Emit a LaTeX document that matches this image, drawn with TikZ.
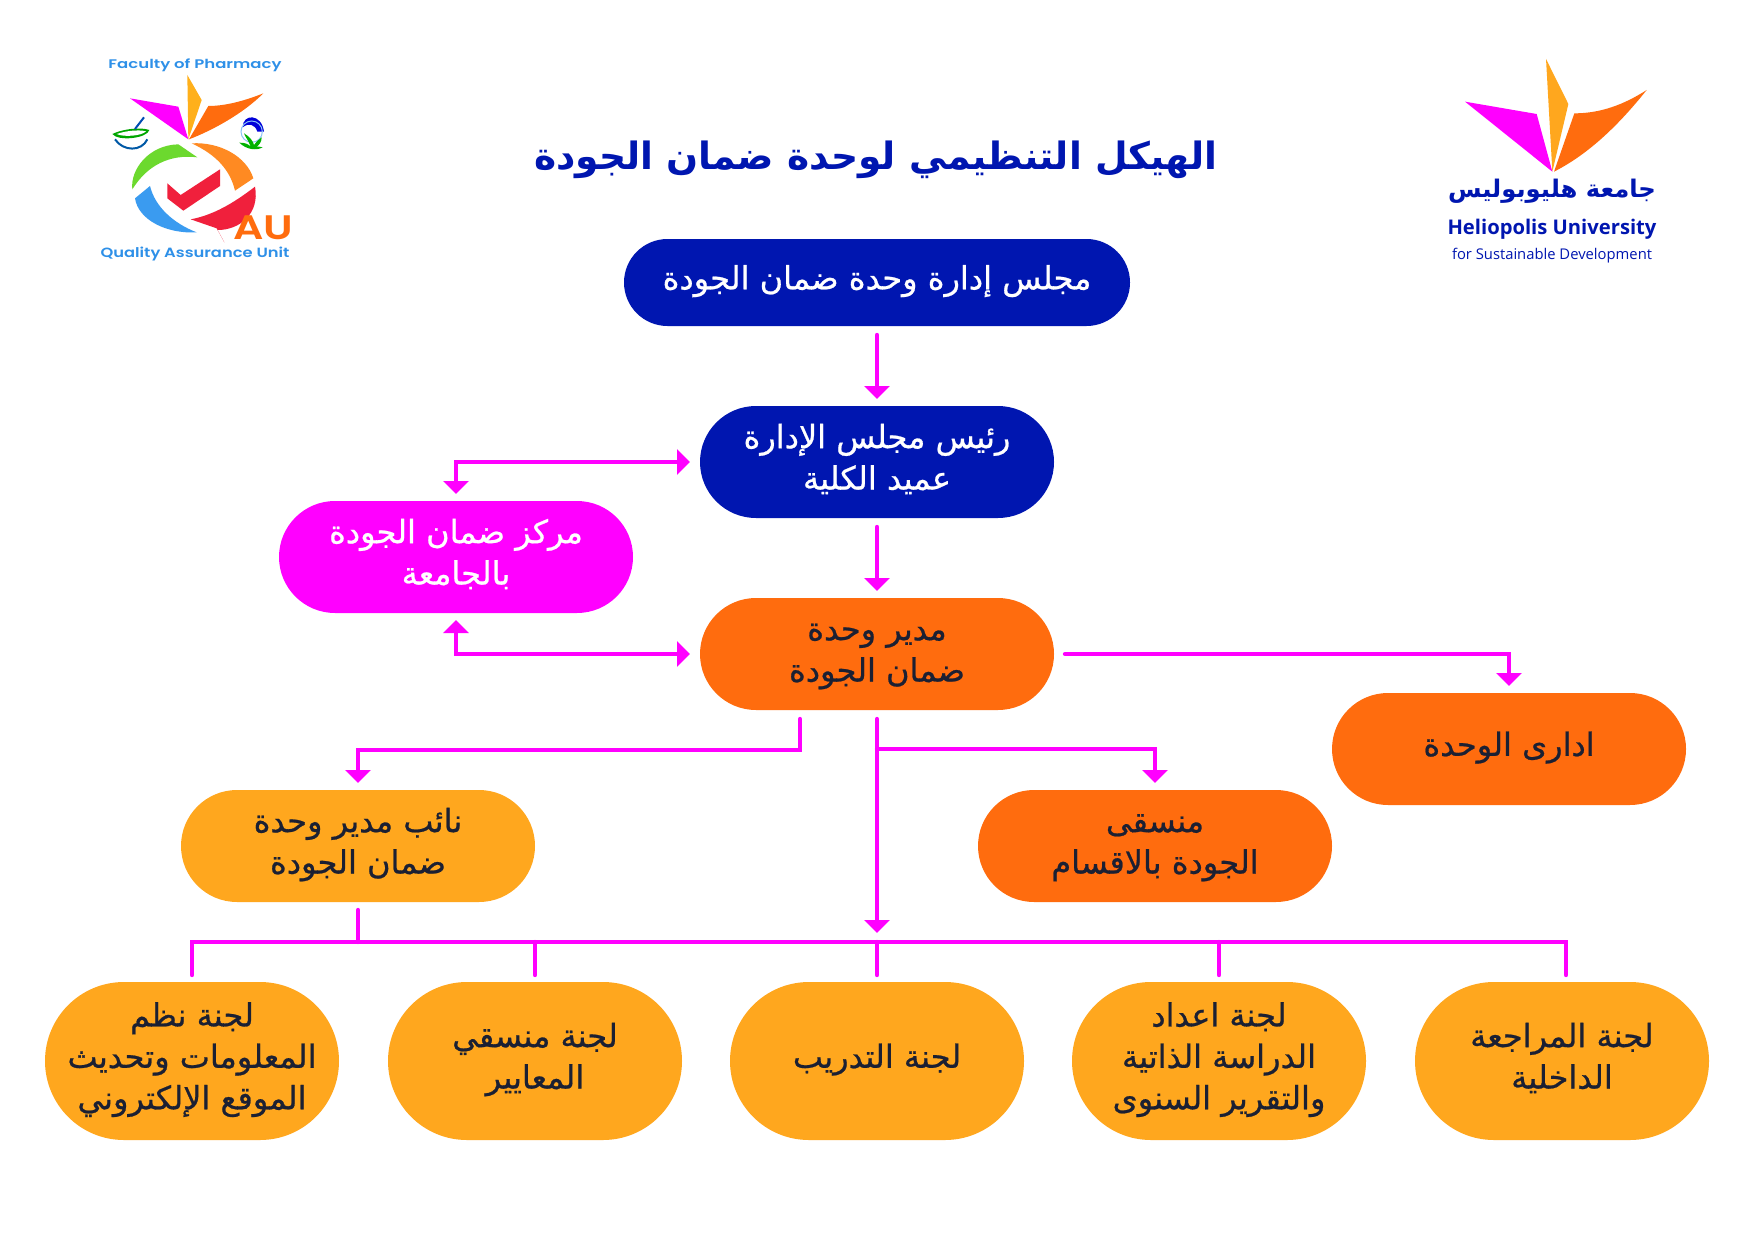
\documentclass[tikz,border=0pt]{standalone}
\usepackage{fontspec}
\usetikzlibrary{arrows.meta,calc}
\TeXXeTstate=1
\newfontfamily\arfont[Script=Arabic,FakeBold=0.7]{DejaVu Sans}
\newfontfamily\arbold[Script=Arabic]{DejaVu Sans Bold}
\newfontfamily\wideb{Poppins SemiBold}
\newfontfamily\opensans{Open Sans}
\newfontfamily\opensansb{Open Sans Bold}
\newcommand{\arl}[1]{\beginR #1\endR}
\newcommand{\boxt}[2][-3.6pt]{\raisebox{#1}[0pt][0pt]{\begin{tabular}{@{}c@{}}#2\end{tabular}}}
\definecolor{navy}{HTML}{0016B0}
\definecolor{mag}{HTML}{FF00FF}
\definecolor{org}{HTML}{FF6C0E}
\definecolor{amb}{HTML}{FFA71E}
\definecolor{ink}{HTML}{1B2033}
\definecolor{lblue}{HTML}{3A9BF0}
\definecolor{lgreen}{HTML}{6CD92E}
\definecolor{lorange}{HTML}{FF8A22}
\definecolor{lred}{HTML}{F0203C}
\definecolor{lbl}{HTML}{2E90E8}
\tikzset{
 boxbase/.style={inner sep=0pt,outer sep=3.5pt,align=center,font=\arfont\fontsize{16}{20.7}\selectfont},
 wide/.style={boxbase,minimum width=177pt,minimum height=56pt,rounded corners=28pt},
 lower/.style={boxbase,minimum width=147pt,minimum height=79pt,rounded corners=39.5pt,fill=amb,text=ink},
 wire/.style={draw=mag,line width=2.2pt,line cap=round},
 arrow/.style={wire,-{Triangle[length=6.5pt,width=12.5pt]}},
 biarrow/.style={wire,{Triangle[length=6.5pt,width=12.5pt]}-{Triangle[length=6.5pt,width=12.5pt]}},
}
\begin{document}
\begin{tikzpicture}[x=0.5pt,y=-0.5pt]
\useasboundingbox (0,0) rectangle (1754,1241);
\fill[white] (0,0) rectangle (1754,1241);
% title
\node[inner sep=0pt,text=navy,font=\arbold\fontsize{18.8}{22}\selectfont] (title) at (876,160) {\arl{الهيكل التنظيمي لوحدة ضمان الجودة}};
% nodes
\node[boxbase,minimum width=253pt,minimum height=43.5pt,rounded corners=21.75pt,fill=navy,text=white] (b1) at (877,282.5) {\boxt{\arl{مجلس إدارة وحدة ضمان الجودة}}};
\node[wide,fill=navy,text=white] (b2) at (877,462) {\boxt{\arl{رئيس مجلس الإدارة}\\\arl{عميد الكلية}}};
\node[wide,fill=mag,text=white] (mg) at (456,557) {\boxt{\arl{مركز ضمان الجودة}\\\arl{بالجامعة}}};
\node[wide,fill=org,text=ink] (b3) at (877,654) {\boxt{\arl{مدير وحدة}\\\arl{ضمان الجودة}}};
\node[wide,fill=org,text=ink] (admin) at (1509,749) {\boxt{\arl{ادارى الوحدة}}};
\node[wide,fill=amb,text=ink] (naib) at (358,846) {\boxt{\arl{نائب مدير وحدة}\\\arl{ضمان الجودة}}};
\node[wide,fill=org,text=ink] (mon) at (1155,846) {\boxt{\arl{منسقى}\\\arl{الجودة بالاقسام}}};
\node[lower] (c1) at (192,1061) {\boxt{\arl{لجنة نظم}\\\arl{المعلومات وتحديث}\\\arl{الموقع الإلكتروني}}};
\node[lower] (c2) at (535,1061) {\boxt{\arl{لجنة منسقي}\\\arl{المعايير}}};
\node[lower] (c3) at (877,1061) {\boxt{\arl{لجنة التدريب}}};
\node[lower] (c4) at (1219,1061) {\boxt{\arl{لجنة اعداد}\\\arl{الدراسة الذاتية}\\\arl{والتقرير السنوى}}};
\node[lower] (c5) at (1562,1061) {\boxt{\arl{لجنة المراجعة}\\\arl{الداخلية}}};
% helper points
\coordinate (bus) at (877,942);
\coordinate (bustip) at (877,933);
\coordinate (d5) at (1566,942);
\coordinate (b3l) at ($(b3.south)+(-77,2)$);
\coordinate (b3lb) at ($(b3.south)+(-77,33)$);
\coordinate (b3c) at ($(b3.south)+(0,2)$);
\coordinate (br) at ($(b3.south)+(0,32)$);
\coordinate (b3r) at ($(b3.east)+(4,0)$);
% connectors
\draw[arrow,shorten <=1pt] (b1) -- (b2);
\draw[arrow,shorten <=1pt] (b2) -- (b3);
\draw[biarrow,shorten >=1.5pt] (mg.north) |- (b2.west);
\draw[biarrow,shorten >=1.5pt] (mg.south) |- (b3.west);
\draw[arrow] (b3r) -| (admin.north);
\draw[arrow] (b3l) -- (b3lb) -| (naib.north);
\draw[arrow] (b3c) -- (bustip);
\draw[arrow] (br) -| (mon.north);
\draw[wire] (c1.north) |- (d5) -- (d5 |- c5.north);
\draw[wire] ($(naib.south)+(0,1)$) -- (naib.south |- bus);
\draw[wire] (bus -| c2) -- (c2.north);
\draw[wire] (bus) -- (c3.north);
\draw[wire] (bus -| c4) -- (c4.north);
% right logo
\begin{scope}[shift={(1400,30)},x=0.16667pt,y=-0.16667pt]
\fill[mag] (195,215) -- (410,252) -- (457,425) -- cycle;
\fill[amb] (438,87) -- (505,222) -- (457,425) -- cycle;
\fill[org] (740,180) .. controls (670,225) and (600,250) .. (523,250) -- (462,425) .. controls (570,370) and (660,280) .. (740,180) -- cycle;
\end{scope}
\node[inner sep=0pt,text=navy] (hua) at (1552,191) {\resizebox{104pt}{!}{\arbold\arl{جامعة هليوبوليس}}};
\node[inner sep=0pt,text=navy] (hub) at (1552,229) {\resizebox{104.5pt}{!}{\opensansb Heliopolis University}};
\node[inner sep=0pt,text=navy] (huc) at (1552,256) {\resizebox{100pt}{!}{\opensans for Sustainable Development}};
% left logo
\begin{scope}[shift={(60,30)},x=0.16667pt,y=-0.16667pt]
\fill[mag] (210,205) -- (355,230) -- (385,328) -- cycle;
\fill[amb!90!yellow] (382,135) -- (425,210) -- (385,328) -- cycle;
\fill[org] (610,190) .. controls (560,210) and (500,228) .. (445,228) -- (387,328) .. controls (460,300) and (550,250) .. (610,190) -- cycle;
\fill[lgreen] (217,478) .. controls (210,420) and (265,345) .. (355,343) -- (412,382) .. controls (330,372) and (262,405) .. (217,478) -- cycle;
\fill[lorange] (395,340) .. controls (480,335) and (560,380) .. (580,445) -- (525,482) .. controls (510,420) and (470,375) .. (395,340) -- cycle;
\fill[lblue] (270,468) -- (225,505) .. controls (235,570) and (320,612) .. (410,607) .. controls (340,580) and (285,530) .. (270,468) -- cycle;
\fill[lred] (585,470) .. controls (520,520) and (460,555) .. (392,568) -- (470,595) -- (493,637) -- (473,600) .. controls (540,600) and (600,550) .. (585,470) -- cycle;
\fill[lred] (322,460) -- (362,495) -- (480,418) -- (480,468) -- (370,542) -- (322,505) -- cycle;
% mortar
\fill[green!65!black] (157,312) .. controls (185,298) and (240,290) .. (268,300) .. controls (262,325) and (175,335) .. (157,312) -- cycle;
\fill[white] (170,312) .. controls (195,303) and (235,298) .. (258,304) .. controls (245,318) and (190,322) .. (170,312) -- cycle;
\draw[line width=1pt,draw=teal!70!blue] (165,328) .. controls (190,365) and (245,365) .. (262,328);
\draw[line width=1pt,draw=teal!60!blue] (225,297) -- (252,262);
% flask icon
\fill[blue!85!black] (548,292) .. controls (548,250) and (605,250) .. (612,305) -- (592,305) .. controls (585,282) and (565,278) .. (548,292) -- cycle;
\draw[line width=0.5pt,draw=lblue!60] (575,305) circle[radius=32];
\fill[green!70!black] (538,338) .. controls (555,338) and (565,342) .. (572,350) .. controls (565,330) and (555,320) .. (552,310) .. controls (570,320) and (578,332) .. (582,345) .. controls (590,335) and (595,328) .. (605,322) .. controls (605,335) and (598,345) .. (590,350) .. controls (595,350) and (603,350) .. (608,352) .. controls (590,362) and (560,360) .. (538,338) -- cycle;
\end{scope}
\node[inner sep=0pt,text=lbl] (fac) at (195,65) {\resizebox*{86.5pt}{6.5pt}{\wideb Faculty of Pharmacy}};
\node[inner sep=0pt,text=lbl] (qua) at (195,254) {\resizebox*{94.5pt}{7pt}{\wideb Quality Assurance Unit}};
\node[inner sep=0pt,text=org] (au) at (263,228) {\resizebox*{30pt}{12pt}{\wideb AU}};
\end{tikzpicture}
\end{document}
